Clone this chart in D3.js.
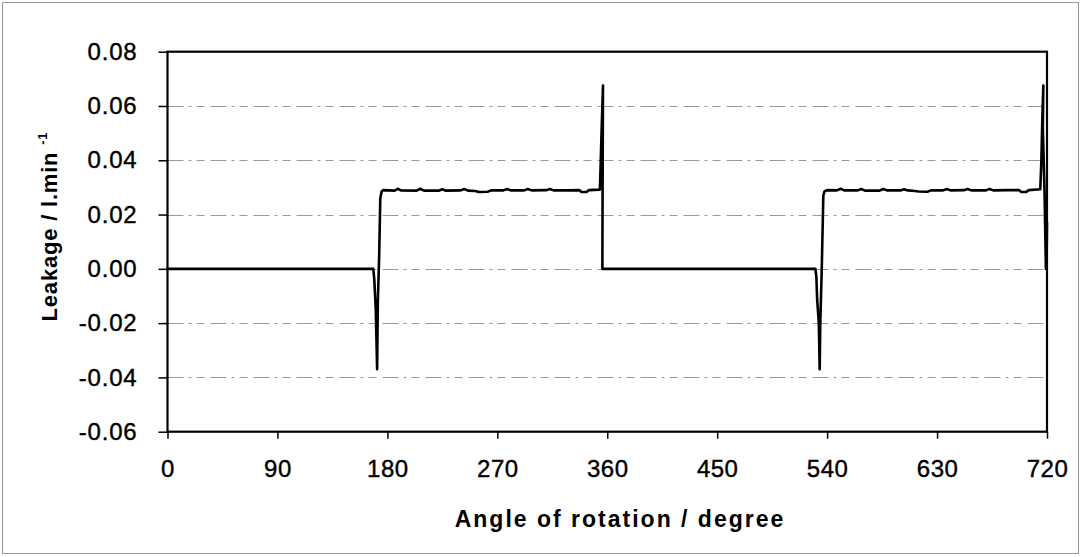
<!DOCTYPE html>
<html><head><meta charset="utf-8">
<script src="https://cdn.jsdelivr.net/npm/d3@7"></script>
<style>
html,body{margin:0;padding:0;background:#fff;}
svg{display:block;}
text{font-family:"Liberation Sans",Arial,sans-serif;fill:#000;}
</style></head>
<body>
<svg id="chart" width="1082" height="557"></svg>
<script>
// ---- data ----
const xTicks = [0, 90, 180, 270, 360, 450, 540, 630, 720];
const yTicks = [-0.06, -0.04, -0.02, 0.00, 0.02, 0.04, 0.06, 0.08];
const yTickLabels = ["-0.06", "-0.04", "-0.02", "0.00", "0.02", "0.04", "0.06", "0.08"];
const xTitle = "Angle of rotation / degree";
const yTitle = "Leakage / l.min ";
const yTitleSup = "-1";

// angle (degree)
const angle = [
  0, 168.5, 169.3, 170.5, 171.6, 172.2, 173.3, 174.2, 175.3, 176.5,
  186, 188.5, 191, 204, 207, 210, 222, 225, 228, 240, 243, 246, 252, 255, 262, 265,
  275, 278, 281, 292, 295, 298, 310, 313, 316, 328, 337, 339, 343, 345, 354.0,
  355.0, 356.5, 356.2, 356.0, 357.0,
  530.4, 531.2, 531.8, 533.2, 533.9, 534.4, 535.6, 536.9, 537.8, 540,
  548, 551, 554, 565, 568, 571, 583, 586, 589, 600, 603, 606, 612, 615, 622, 625,
  635, 638, 641, 652, 655, 658, 670, 673, 676, 688, 697, 699, 703, 705, 714.5,
  715.4, 716.2, 717.0, 716.6, 718.0, 719.1, 719.6, 720.0
];
// leakage (l/min)
const leakage = [
  0, 0, -0.004, -0.015, -0.037, -0.012, 0.005, 0.026, 0.0285, 0.0290,
  0.0288, 0.0295, 0.0289, 0.0288, 0.0295, 0.0288, 0.0288, 0.0293, 0.0288, 0.0289, 0.0294, 0.0288, 0.0287, 0.0283, 0.0284, 0.0289,
  0.0289, 0.0294, 0.0289, 0.0289, 0.0294, 0.0289, 0.0290, 0.0294, 0.0289, 0.0289, 0.0290, 0.0283, 0.0283, 0.0290, 0.0292,
  0.045, 0.0675, 0.030, 0.000, 0.000,
  0.000, -0.003, -0.011, -0.020, -0.037, -0.020, 0.000, 0.027, 0.0285, 0.0290,
  0.0289, 0.0295, 0.0289, 0.0289, 0.0294, 0.0288, 0.0288, 0.0294, 0.0289, 0.0289, 0.0293, 0.0289, 0.0287, 0.0285, 0.0284, 0.0289,
  0.0289, 0.0294, 0.0289, 0.0290, 0.0294, 0.0289, 0.0289, 0.0294, 0.0289, 0.0290, 0.0290, 0.0283, 0.0283, 0.0290, 0.0293,
  0.040, 0.056, 0.0675, 0.052, 0.028, 0.000, 0.000, 0.017
];

// ---- layout ----
const svg = d3.select("#chart");
const L = 167.5, R = 1047, T = 51.7, B = 431.7;

const x = d3.scaleLinear().domain([0, 720]).range([L, R]);
const y = d3.scaleLinear().domain([-0.06, 0.08]).range([B, T]);

// outer frame
svg.append("rect").attr("x", 2.5).attr("y", 2.5).attr("width", 1076).attr("height", 551)
  .attr("fill", "none").attr("stroke", "#999").attr("stroke-width", 1);

// gridlines
svg.append("g").selectAll("line").data(yTicks.filter(v => v > -0.06 && v < 0.08)).join("line")
  .attr("x1", L).attr("x2", R)
  .attr("y1", d => Math.round(y(d)) + 0.5).attr("y2", d => Math.round(y(d)) + 0.5)
  .attr("stroke", "#9a9a9a").attr("stroke-width", 1)
  .attr("stroke-dasharray", "16,5,3,5,8,6");

// axes
const yAxis = d3.axisLeft(y).tickValues(yTicks)
  .tickFormat((d, i) => yTickLabels[i]).tickSize(9).tickPadding(21);
const gy = svg.append("g").attr("transform", `translate(${L},0)`).call(yAxis);
gy.select(".domain").remove();
gy.selectAll(".tick line").attr("stroke", "#000").attr("stroke-width", 1.5);
gy.selectAll("text").attr("font-size", 24).attr("letter-spacing", 0.8)
  .attr("stroke", "#000").attr("stroke-width", 0.4)
  .attr("font-family", "'Liberation Sans', Arial, sans-serif");

const xAxis = d3.axisBottom(x).tickValues(xTicks).tickFormat(d3.format("d"))
  .tickSize(7).tickPadding(21);
const gx = svg.append("g").attr("transform", `translate(0,${B})`).call(xAxis);
gx.select(".domain").remove();
gx.selectAll(".tick line").attr("stroke", "#000").attr("stroke-width", 1.5);
gx.selectAll("text").attr("font-size", 24).attr("letter-spacing", 0.5)
  .attr("stroke", "#000").attr("stroke-width", 0.4)
  .attr("font-family", "'Liberation Sans', Arial, sans-serif");

// data line
const pts = angle.map((a, i) => [a, leakage[i]]);
svg.append("path").datum(pts)
  .attr("fill", "none").attr("stroke", "#000").attr("stroke-width", 2.6)
  .attr("stroke-linejoin", "round").attr("stroke-linecap", "round")
  .attr("d", d3.line().x(d => x(d[0])).y(d => y(d[1])));

// plot border
svg.append("rect").attr("x", L).attr("y", T).attr("width", R - L).attr("height", B - T)
  .attr("fill", "none").attr("stroke", "#000").attr("stroke-width", 2.2);

// axis titles
svg.append("text").attr("x", 620).attr("y", 527).attr("text-anchor", "middle")
  .attr("font-size", 23).attr("font-weight", "bold").attr("letter-spacing", 2.0)
  .text(xTitle);

const yt = svg.append("text").attr("transform", "translate(57,226.5) rotate(-90)")
  .attr("text-anchor", "middle").attr("font-size", 22).attr("font-weight", "bold")
  .attr("letter-spacing", 0.8);
yt.append("tspan").text(yTitle);
yt.append("tspan").attr("font-size", 13).attr("dy", -10).text(yTitleSup);
</script>
</body></html>
